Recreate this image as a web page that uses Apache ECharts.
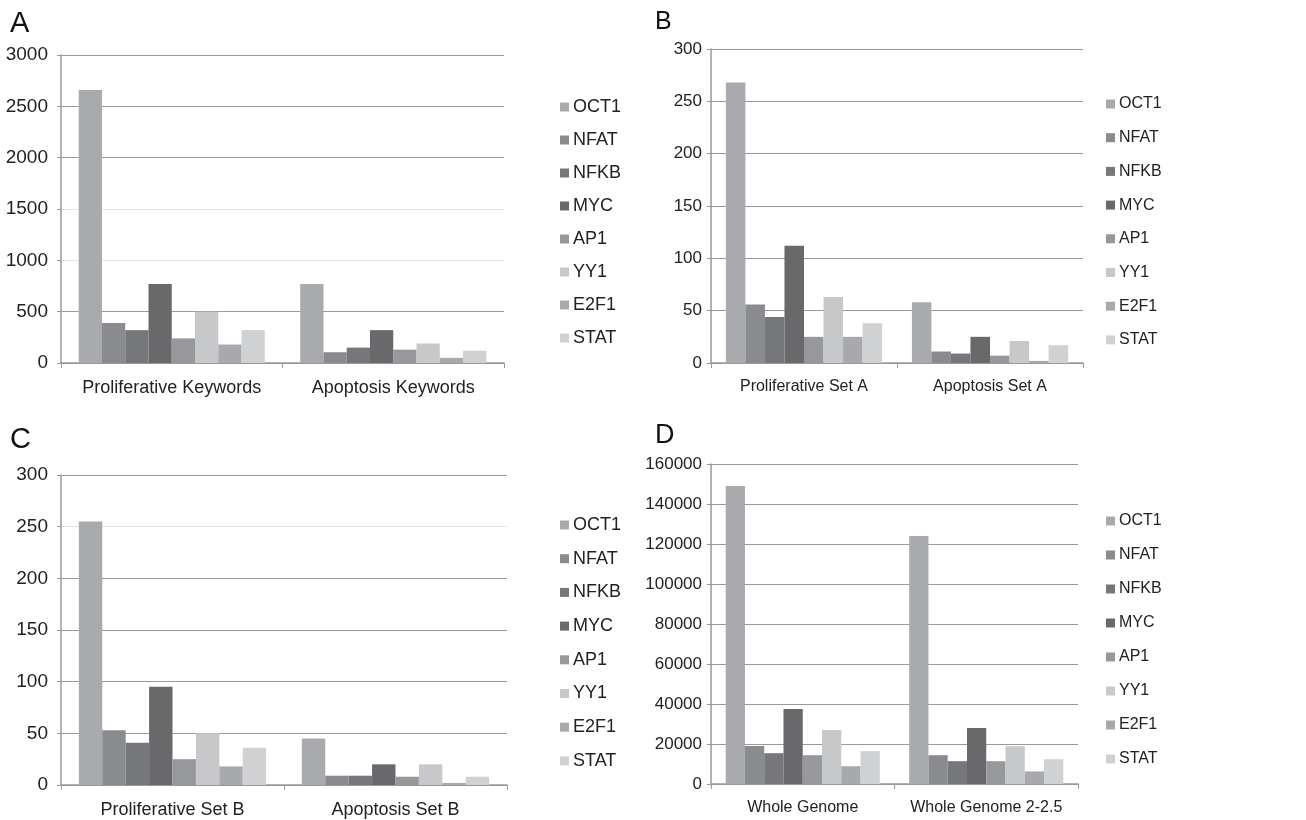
<!DOCTYPE html>
<html>
<head>
<meta charset="utf-8">
<title>TF binding site counts</title>
<script src="https://cdn.jsdelivr.net/npm/echarts@6/dist/echarts.min.js"></script>
<style>
	html, body { margin: 0; padding: 0; background: #fff; }
	#main { width: 1306px; height: 820px; }
</style>
</head>
<body>
<div id="main"></div>
<script>
// 转录因子名称（图例）
var factors = ['OCT1', 'NFAT', 'NFKB', 'MYC', 'AP1', 'YY1', 'E2F1', 'STAT'];
var factorColors = ['#a9aaae', '#8a8b8f', '#76777b', '#69696b', '#97989c', '#c7c8ca', '#a8a9ad', '#d0d1d3'];

// 各面板的分类
var catsA = ['Proliferative Keywords', 'Apoptosis Keywords'];
var catsB = ['Proliferative Set A', 'Apoptosis Set A'];
var catsC = ['Proliferative Set B', 'Apoptosis Set B'];
var catsD = ['Whole Genome', 'Whole Genome 2-2.5'];

// 数值，按因子顺序：[第一组, 第二组]
var valuesA = [[2660, 770], [390, 105], [320, 150], [770, 320], [240, 130], [500, 190], [180, 50], [320, 120]];
var valuesB = [[268, 58], [56, 11], [44, 9], [112, 25], [25, 7], [63, 21], [25, 2], [38, 17]];
var valuesC = [[255, 45], [53, 9], [41, 9], [95, 20], [25, 8], [50, 20], [18, 2], [36, 8]];
var valuesD = [[149000, 124000], [19000, 14400], [15400, 11400], [37500, 28000], [14400, 11400], [27000, 18900], [8900, 6300], [16400, 12400]];

// 纵轴刻度
var ticksA = [0, 500, 1000, 1500, 2000, 2500, 3000];
var ticksB = [0, 50, 100, 150, 200, 250, 300];
var ticksC = [0, 50, 100, 150, 200, 250, 300];
var ticksD = [0, 20000, 40000, 60000, 80000, 100000, 120000, 140000, 160000];

var font = 'Liberation Sans, Arial, sans-serif';
var gridDark = '#999';
var gridLight = '#e6e6e6';

// 四个面板的位置与字号（B、D 原图为窄体字，用较小字号代替）
var panels = [
	{ cats: catsA, vals: valuesA, ticks: ticksA, size: 18, margin: 13, grid: { left: 61, top: 55, width: 443, height: 308 },
	  lines: [gridDark, gridDark, gridLight, gridLight, gridDark, gridDark, gridDark], legend: { left: 555, top: 93, gap: 15 } },
	{ cats: catsB, vals: valuesB, ticks: ticksB, size: 16, margin: 9, grid: { left: 711, top: 49, width: 372, height: 314 },
	  lines: [gridDark], legend: { left: 1101, top: 91, gap: 17.7 } },
	{ cats: catsC, vals: valuesC, ticks: ticksC, size: 18, margin: 13, grid: { left: 61, top: 475, width: 446, height: 310 },
	  lines: [gridDark, gridDark, gridDark, gridDark, gridDark, gridLight, gridDark], legend: { left: 555, top: 511, gap: 15.7 } },
	{ cats: catsD, vals: valuesD, ticks: ticksD, size: 16, margin: 9, grid: { left: 711, top: 464, width: 367, height: 320 },
	  lines: [gridDark], legend: { left: 1101, top: 508, gap: 18 } }
];
var letters = [
	{ text: 'A', left: 10, top: 9, size: 29 },
	{ text: 'B', left: 655, top: 10, size: 25 },
	{ text: 'C', left: 10, top: 425, size: 29 },
	{ text: 'D', left: 655, top: 422, size: 27 }
];

var grids = [], xAxes = [], yAxes = [], legends = [], series = [];

panels.forEach(function(p, idx) {
	grids.push({ left: p.grid.left, top: p.grid.top, width: p.grid.width, height: p.grid.height });
	xAxes.push({
		type: 'category',
		gridIndex: idx,
		data: p.cats,
		axisLine: { lineStyle: { color: '#999', width: 1.5 } },
		axisTick: { show: true, length: 5, lineStyle: { color: '#999' } },
		axisLabel: { color: '#222', fontSize: p.size, fontFamily: font, margin: 16, interval: 0 }
	});
	var t = p.ticks;
	yAxes.push({
		type: 'value',
		gridIndex: idx,
		min: t[0],
		max: t[t.length - 1],
		interval: t[1] - t[0],
		axisLine: { show: true, lineStyle: { color: '#999', width: 1.5 } },
		axisTick: { show: true, length: 4, lineStyle: { color: '#999' } },
		axisLabel: { color: '#222', fontSize: p.size + 1, fontFamily: font, margin: p.margin,
			formatter: function(v) { return String(v); } },
		splitLine: { show: true, lineStyle: { color: p.lines, width: 1.2 } }
	});
	legends.push({
		orient: 'vertical',
		left: p.legend.left,
		top: p.legend.top,
		itemGap: p.legend.gap,
		itemWidth: 9,
		itemHeight: 9,
		icon: 'rect',
		selectedMode: false,
		data: factors,
		textStyle: { color: '#222', fontSize: p.size, lineHeight: p.size, fontFamily: font, padding: [0, 0, 0, -1] }
	});
	factors.forEach(function(name, i) {
		series.push({
			name: name,
			type: 'bar',
			xAxisIndex: idx,
			yAxisIndex: idx,
			data: p.vals[i],
			barGap: 0,
			barCategoryGap: '16%',
			itemStyle: { color: factorColors[i] },
			emphasis: { disabled: true },
			animation: false
		});
	});
});

var myChart = echarts.init(document.getElementById('main'));
myChart.setOption({
	backgroundColor: '#fff',
	animation: false,
	title: letters.map(function(l) {
		return { text: l.text, left: l.left, top: l.top, padding: 0,
			textStyle: { fontSize: l.size, fontWeight: 'normal', color: '#111', fontFamily: font } };
	}),
	grid: grids,
	xAxis: xAxes,
	yAxis: yAxes,
	legend: legends,
	series: series
});
</script>
</body>
</html>
